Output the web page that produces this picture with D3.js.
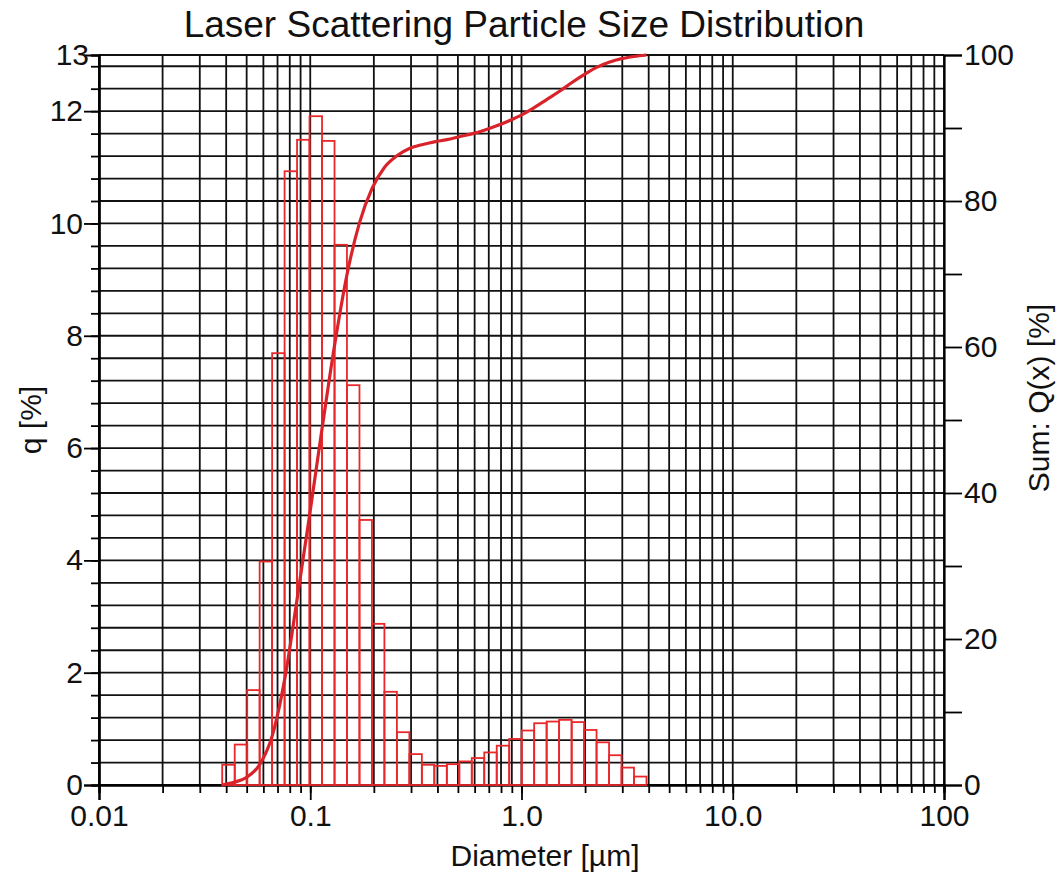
<!DOCTYPE html>
<html>
<head>
<meta charset="utf-8">
<script src="https://cdn.jsdelivr.net/npm/d3@7/dist/d3.min.js"></script>
<style>
    body { margin: 0; background: #fff; }
    text { font-family: "Liberation Sans", Arial, sans-serif; fill: #111; }
</style>
</head>
<body>
<div id="chart"></div>
<script>
// bin edges of the histogram (µm)
var binEdges = [0.0383, 0.0439, 0.0503, 0.0576, 0.0660, 0.0756, 0.0866, 0.0992, 0.1137, 0.1303,
    0.1492, 0.1710, 0.1959, 0.2244, 0.2571, 0.2946, 0.3375, 0.3867, 0.4431, 0.5076,
    0.5816, 0.6663, 0.7634, 0.8747, 1.002, 1.148, 1.315, 1.507, 1.727, 1.978,
    2.266, 2.597, 2.975, 3.408, 3.905];

// q [%] per bin
var qValues = [0.36, 0.72, 1.69, 3.98, 7.69, 10.93, 11.49, 11.91, 11.47, 9.62,
    7.12, 4.72, 2.87, 1.66, 0.94, 0.55, 0.36, 0.34, 0.37, 0.42,
    0.48, 0.58, 0.70, 0.82, 0.97, 1.10, 1.13, 1.16, 1.12, 0.98,
    0.76, 0.53, 0.31, 0.15];

// cumulative curve Q(x) [%]
var curveSizes = [0.0383, 0.0439, 0.0503, 0.0576, 0.0660, 0.0756, 0.0866, 0.0992, 0.1137, 0.1303,
    0.1492, 0.1710, 0.1959, 0.2244, 0.2571, 0.2946, 0.3375, 0.3867, 0.4431, 0.5076,
    0.5816, 0.6663, 0.7634, 0.8747, 1.002, 1.148, 1.315, 1.507, 1.727, 1.978,
    2.266, 2.597, 2.975, 3.408, 3.905];
var curveSum = [0, 0.4, 1.1, 2.8, 6.7, 14.4, 25.4, 36.9, 48.8, 60.2,
    69.9, 77.0, 81.7, 84.6, 86.2, 87.2, 87.7, 88.1, 88.4, 88.8,
    89.2, 89.7, 90.3, 91.0, 91.8, 92.8, 93.9, 95.0, 96.2, 97.3,
    98.3, 99.0, 99.5, 99.8, 100];

var xMajorTicks = [0.01, 0.1, 1, 10, 100];
var xMajorLabels = ["0.01", "0.1", "1.0", "10.0", "100"];
var leftLabelTicks = [0, 2, 4, 6, 8, 10, 12];
var rightTicks = [0, 10, 20, 30, 40, 50, 60, 70, 80, 90, 100];

var svgWidth = 1060;
var svgHeight = 879;

var margin = {
    top: 55,
    right: 116,
    bottom: 94,
    left: 99
};

var width = svgWidth - margin.left - margin.right;
var height = svgHeight - margin.top - margin.bottom;

var svg = d3.select("#chart")
    .append("svg")
    .attr("width", svgWidth)
    .attr("height", svgHeight);

var chartGroup = svg.append("g")
    .attr("transform", `translate(${margin.left}, ${margin.top})`);

var xScale = d3.scaleLog()
    .domain([0.01, 100])
    .range([0, width]);

var yLeft = d3.scaleLinear()
    .domain([0, 13])
    .range([height, 0]);

var yRight = d3.scaleLinear()
    .domain([0, 100])
    .range([height, 0]);

var xMinor = xScale.ticks();
var yGrid = d3.range(0, 33).map(i => +(i * 0.4).toFixed(1)).concat([13]);

// grid
chartGroup.append("g")
    .selectAll("line")
    .data(xMinor)
    .enter()
    .append("line")
    .attr("x1", d => xScale(d))
    .attr("x2", d => xScale(d))
    .attr("y1", 0)
    .attr("y2", height)
    .attr("stroke", "#111")
    .attr("stroke-width", 1.8);

chartGroup.append("g")
    .selectAll("line")
    .data(yGrid)
    .enter()
    .append("line")
    .attr("x1", 0)
    .attr("x2", width)
    .attr("y1", d => yLeft(d))
    .attr("y2", d => yLeft(d))
    .attr("stroke", "#111")
    .attr("stroke-width", 1.8);

// axes
function styleAxis(g) {
    g.select(".domain").attr("stroke", "#000").attr("stroke-width", 2.2);
    g.selectAll(".tick line").attr("stroke", "#000").attr("stroke-width", 1.8);
    g.selectAll("text").attr("font-size", 30).attr("fill", "#111")
        .style("font-family", "'Liberation Sans', Arial, sans-serif");
}

chartGroup.append("g")
    .attr("transform", `translate(0, ${height})`)
    .call(d3.axisBottom(xScale).tickValues(xMinor).tickSize(8).tickFormat(""))
    .call(styleAxis);

chartGroup.append("g")
    .attr("transform", `translate(0, ${height})`)
    .call(d3.axisBottom(xScale).tickValues(xMajorTicks).tickSize(15).tickPadding(5)
        .tickFormat((d, i) => xMajorLabels[i]))
    .call(styleAxis);

chartGroup.append("g")
    .call(d3.axisLeft(yLeft).tickValues(yGrid).tickSize(8).tickFormat(""))
    .call(styleAxis);

chartGroup.append("g")
    .call(d3.axisLeft(yLeft).tickValues(leftLabelTicks).tickSize(15).tickPadding(1))
    .call(styleAxis);

// 13 sits on the top line with a short tick
chartGroup.append("text")
    .attr("x", -10)
    .attr("y", yLeft(13))
    .attr("dy", "0.32em")
    .attr("text-anchor", "end")
    .attr("font-size", 30)
    .text("13");

chartGroup.append("g")
    .attr("transform", `translate(${width}, 0)`)
    .call(d3.axisRight(yRight).tickValues(rightTicks).tickSize(18).tickPadding(2)
        .tickFormat(d => d % 20 === 0 ? d : ""))
    .call(styleAxis);

// bars
chartGroup.append("g")
    .selectAll("rect")
    .data(qValues)
    .enter()
    .append("rect")
    .attr("x", (d, i) => xScale(binEdges[i]))
    .attr("width", (d, i) => xScale(binEdges[i + 1]) - xScale(binEdges[i]))
    .attr("y", d => yLeft(d))
    .attr("height", d => height - yLeft(d))
    .attr("fill", "none")
    .attr("stroke", "#e8282b")
    .attr("stroke-width", 1.8);

// cumulative curve
var line = d3.line()
    .x(d => xScale(d[0]))
    .y(d => yRight(d[1]))
    .curve(d3.curveMonotoneX);

chartGroup.append("path")
    .datum(curveSizes.map((s, i) => [s, curveSum[i]]))
    .attr("d", line)
    .attr("fill", "none")
    .attr("stroke", "#d9232a")
    .attr("stroke-width", 3.2);

// titles
svg.append("text")
    .attr("x", 524)
    .attr("y", 37)
    .attr("text-anchor", "middle")
    .attr("font-size", 37)
    .text("Laser Scattering Particle Size Distribution");

svg.append("text")
    .attr("x", 545)
    .attr("y", 866)
    .attr("text-anchor", "middle")
    .attr("font-size", 30)
    .text("Diameter [µm]");

svg.append("text")
    .attr("transform", "translate(41, 420) rotate(-90)")
    .attr("text-anchor", "middle")
    .attr("font-size", 30)
    .text("q [%]");

svg.append("text")
    .attr("transform", "translate(1049, 398) rotate(-90)")
    .attr("text-anchor", "middle")
    .attr("font-size", 30)
    .text("Sum: Q(x) [%]");
</script>
</body>
</html>
